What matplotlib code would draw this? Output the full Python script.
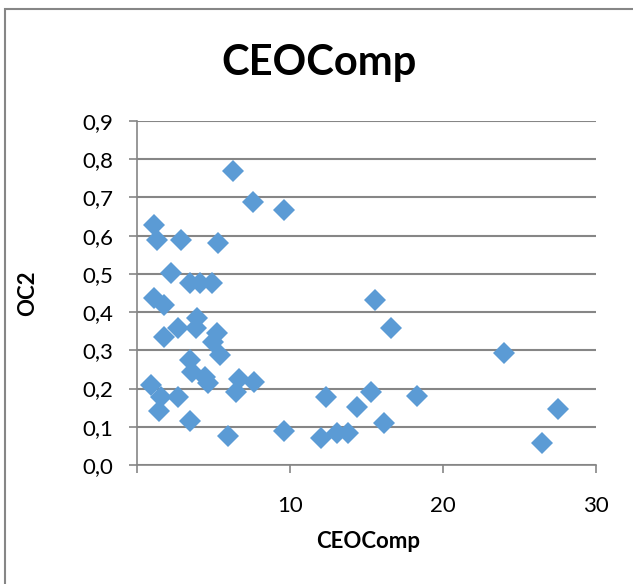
import matplotlib
matplotlib.use('Agg')
import matplotlib.pyplot as plt
from matplotlib.patches import Rectangle

# values
ceo_comp = [6.27, 7.58, 9.63, 1.13, 1.31, 2.90, 5.27, 2.24, 3.44, 4.10,
            4.90, 1.13, 1.74, 15.56, 16.60, 3.92, 3.88, 2.66, 1.74, 5.23,
            4.97, 5.40, 3.44, 3.59, 4.47, 4.64, 6.64, 7.62, 6.47, 0.92,
            1.57, 2.66, 1.42, 3.44, 5.95, 9.61, 12.35, 12.00, 13.09, 13.81,
            14.36, 15.29, 16.14, 18.28, 23.99, 26.50, 27.53]
oc2 = [0.770, 0.689, 0.667, 0.628, 0.589, 0.589, 0.580, 0.502, 0.477, 0.477,
       0.477, 0.438, 0.419, 0.432, 0.359, 0.384, 0.358, 0.358, 0.334, 0.346,
       0.323, 0.288, 0.275, 0.244, 0.231, 0.214, 0.224, 0.218, 0.192, 0.209,
       0.178, 0.177, 0.140, 0.115, 0.076, 0.089, 0.177, 0.070, 0.085, 0.085,
       0.153, 0.192, 0.109, 0.181, 0.292, 0.058, 0.146]

x_ticks = [10, 20, 30]
y_ticks = [0.0, 0.1, 0.2, 0.3, 0.4, 0.5, 0.6, 0.7, 0.8, 0.9]

plt.rcParams['font.family'] = ['Lato', 'DejaVu Sans']
grey = '#868686'

fig = plt.figure(figsize=(6.33, 5.84), dpi=100)
ax = fig.add_axes([137/633, 1 - 465/584, (596 - 137)/633, (465 - 121)/584])

ax.plot(ceo_comp, oc2, linestyle='none', marker='D', markersize=11,
        color='#5B9BD5', markeredgewidth=0, zorder=3)

ax.set_xlim(0, 30)
ax.set_ylim(0, 0.9)
ax.set_xticks([0] + x_ticks)
ax.set_xticklabels([''] + [str(t) for t in x_ticks])
ax.set_yticks(y_ticks)
ax.set_yticklabels([f'{t:.1f}'.replace('.', ',') for t in y_ticks])

ax.grid(axis='y', color=grey, linewidth=1.5)
ax.set_axisbelow(True)
for side in ['top', 'right']:
    ax.spines[side].set_visible(False)
for side in ['left', 'bottom']:
    ax.spines[side].set_color(grey)
    ax.spines[side].set_linewidth(1.2)
ax.tick_params(axis='both', direction='out', length=6, width=1.2, color=grey,
               labelsize=16, labelcolor='black')
ax.tick_params(axis='x', pad=16)
ax.tick_params(axis='y', pad=11)

ax.set_xlabel('CEOComp', fontsize=16, fontweight='bold', va='center')
ax.xaxis.set_label_coords(0.5 - (596 + 137 - 2*368)/(2*459), (465 - 541)/344)
ax.set_ylabel('OC2', fontsize=16, fontweight='bold', va='center')
ax.yaxis.set_label_coords((28 - 137)/459, 0.5)
fig.text(319/633, 1 - 63/584, 'CEOComp', fontsize=30, fontweight='bold',
         ha='center', va='center')

# chart frame
fig.patches.append(Rectangle((4.5/633, -0.1), 1.2, 1 - 9/584 + 0.1,
                             transform=fig.transFigure, fill=False,
                             edgecolor=grey, linewidth=1.5))

fig.savefig('out.png', dpi=100)
